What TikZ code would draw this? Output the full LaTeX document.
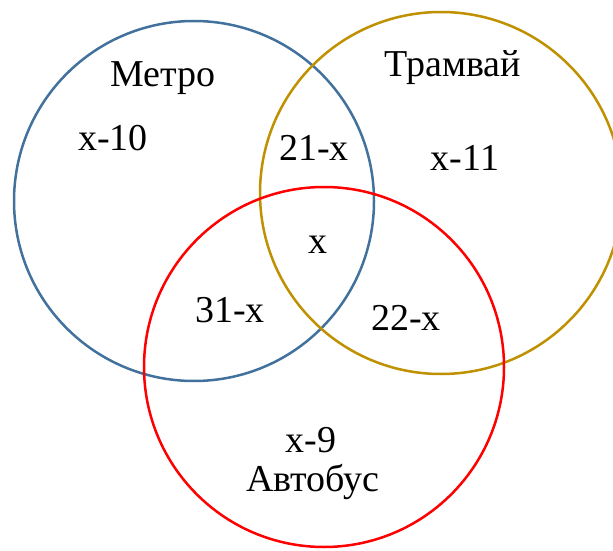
\documentclass[tikz,border=0pt]{standalone}
\usepackage{fontspec}
\setmainfont{Liberation Serif}
\usepackage{tikz}
\definecolor{metroblue}{RGB}{65,113,156}
\definecolor{tramgold}{RGB}{191,144,0}
\definecolor{busred}{RGB}{255,0,0}

\begin{document}
\begin{tikzpicture}[x=1pt, y=1pt, font=\fontsize{38}{42}\selectfont]
\tikzstyle{ring}=[line width=2.5pt]
\tikzstyle{lbl}=[inner sep=0pt, anchor=center]
\useasboundingbox (0,0) rectangle (613,550);
\draw[ring, metroblue] (194,349) circle (180);
\draw[ring, tramgold] (441,357) circle (181);
\draw[ring, busred] (324,183) circle (180);
\node[lbl] (metro) at (163,472) {Метро};
\node[lbl] (tram) at (453,482) {Трамвай};
\node[lbl] (bus) at (313,68) {Автобус};
\node[lbl] (m) at (113,412) {x-10};
\node[lbl] (t) at (465,392) {x-11};
\node[lbl] (b) at (311,110) {x-9};
\node[lbl] (mt) at (314,402) {21-x};
\node[lbl] (mb) at (230,240) {31-x};
\node[lbl] (tb) at (406,232) {22-x};
\node[lbl] (mtb) at (318,305) {x};
\end{tikzpicture}
\end{document}
